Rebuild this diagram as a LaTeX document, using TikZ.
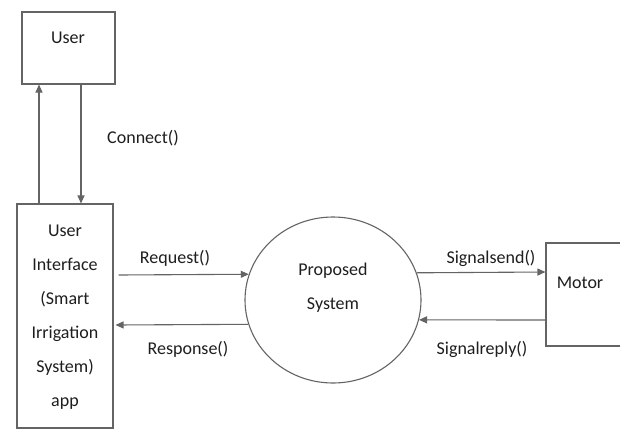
\documentclass[tikz,border=0pt]{standalone}
\usepackage{fontspec}
\setmainfont{Carlito}
\usetikzlibrary{shapes.geometric,arrows.meta}
\definecolor{lineg}{RGB}{100,100,100}
\definecolor{txt}{RGB}{30,30,30}
\tikzset{
  box/.style={draw=lineg,line width=1.1pt,rectangle,inner sep=0pt},
  oval/.style={draw=lineg,line width=1.1pt,ellipse,inner sep=0pt},
  lbl/.style={text=txt,font=\fontsize{18}{34}\selectfont,inner sep=0pt,align=center},
  arr/.style={draw=lineg,line width=1.1pt,-{Triangle[length=8pt,width=7pt]}}
}
\begin{document}
\begin{tikzpicture}[x=1pt,y=-1pt]
\clip (0,0) rectangle (620,434);
\fill[white] (0,0) rectangle (620,434);
% shapes
\node[box,minimum width=93pt,minimum height=72pt] (user) at (68.5,48) {};
\node[box,minimum width=96pt,minimum height=224pt] (ui) at (65,316) {};
\node[oval,minimum width=176pt,minimum height=166pt] (ps) at (333,300) {};
\node[box,minimum width=80pt,minimum height=103pt] (motor) at (586,294.5) {};
% texts
\node[lbl] (tuser) at (68,38) {User};
\node[lbl,anchor=north] (tui) at (65,225) {User\\Interface\\(Smart\\Irrigation\\System)\\app};
\node[lbl] (tps) at (333,288) {Proposed\\System};
\node[lbl] (tmotor) at (580,283) {Motor};
\node[lbl] (tconnect) at (143,138) {Connect()};
\node[lbl] (treq) at (175,258) {Request()};
\node[lbl] (tresp) at (188,349) {Response()};
\node[lbl] (tsend) at (491,258) {Signalsend()};
\node[lbl] (treply) at (482,349) {Signalreply()};
% connectors
\draw[arr] (ui.north -| 39,0) -- (user.south -| 39,0);
\draw[arr] (user.south -| 81,0) -- (ui.north -| 81,0);
\draw[arr] ([xshift=5pt]ui.east |- 0,275) -- (ps.163.4);
\draw[arr] (ps.196.6) -- ([xshift=2pt]ui.east |- 0,325);
\draw[arr] (ps.18.7) -- (motor.west |- 0,272);
\draw[arr] (motor.west |- 0,320) -- (ps.-13.2);
\end{tikzpicture}
\end{document}
